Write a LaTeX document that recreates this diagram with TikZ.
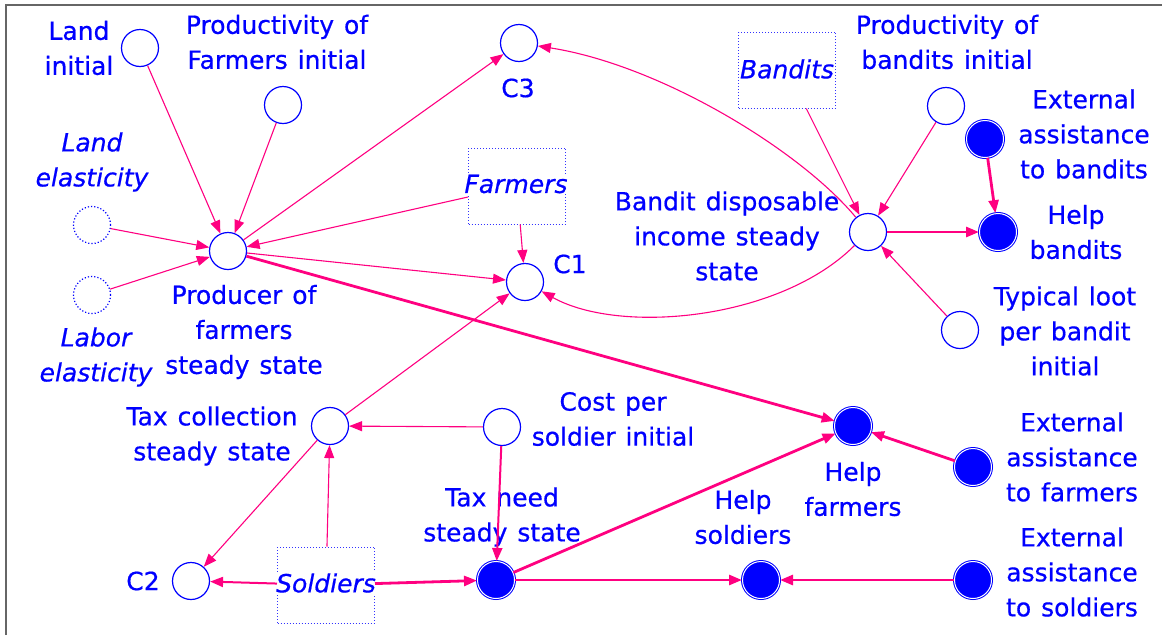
\documentclass[tikz,border=0pt]{standalone}
\usepackage{fontspec}
\setmainfont{DejaVu Sans}[FakeBold=0.6,WordSpace=1.25]
\usetikzlibrary{arrows.meta}
\definecolor{lnk}{RGB}{255,0,128}
\definecolor{ink}{RGB}{0,0,255}
\begin{document}
\begin{tikzpicture}[x=1pt,y=-1pt,
  var/.style={circle,draw=ink,line width=1.2pt,minimum size=37pt,inner sep=0pt,fill=white},
  extvar/.style={var,dotted},
  keyvar/.style={circle,draw=ink,fill=ink,line width=1pt,double=white,double distance=1pt,minimum size=37pt,inner sep=0pt},
  grp/.style={draw=ink!80,dotted,line width=1pt,minimum width=97pt,minimum height=76pt,inner sep=0pt},
  lbl/.style={text=ink,align=center,font=\fontsize{25}{35}\selectfont,inner sep=0pt},
  ilbl/.style={text=ink,align=center,font=\fontsize{25}{35}\selectfont\itshape,inner sep=0pt},
  glbl/.style={ilbl,fill=white,inner sep=1pt},
  thinl/.style={draw=lnk,line width=1.1pt,-{Triangle[length=13pt,width=10pt]}},
  midl/.style={draw=lnk,line width=2pt,-{Triangle[length=13pt,width=10pt]}},
  thickl/.style={draw=lnk,line width=2.8pt,-{Triangle[length=13pt,width=10pt]}},
]
\useasboundingbox (0,0) rectangle (1166,635);
% window frame
\draw[gray!80!black,line width=2pt] (5.5,635) -- (5.5,4.5) -- (1162,4.5);

% farmers sector
\node[var] (li) at (140,48) {};
\node[lbl] (lil) at (79,48) {Land\\initial};
\node[var] (pfi) at (283,105) {};
\node[lbl] (pfil) at (277,42) {Productivity of\\Farmers initial};
\node[extvar] (le) at (92,225) {};
\node[ilbl] (lel) at (92,162) {Land\\elasticity};
\node[extvar] (lae) at (92,295) {};
\node[ilbl] (lael) at (96,357) {Labor\\elasticity};
\node[var] (pf) at (228,251) {};
\node[lbl] (pfl) at (244,332) {Producer of\\farmers\\steady state};
\node[var] (c3) at (519,43) {};
\node[lbl] (c3l) at (518,88) {C3};
\node[grp] (fa) at (517,186) {};
\node[glbl] (fal) at (516,184) {Farmers};
\node[var] (c1) at (525,282) {};
\node[lbl] (c1l) at (570,264) {C1};

% bandits sector
\node[grp] (ba) at (787,70) {};
\node[glbl] (bal) at (787,69) {Bandits};
\node[var] (bd) at (868,232) {};
\node[lbl] (bdl) at (727,236) {Bandit disposable\\income steady\\state};
\node[var] (pbi) at (946,106) {};
\node[lbl] (pbil) at (947,42) {Productivity of\\bandits initial};
\node[keyvar] (eab) at (985,139) {};
\node[lbl] (eabl) at (1084,134) {External\\assistance\\to bandits};
\node[keyvar] (hb) at (998,232) {};
\node[lbl] (hbl) at (1076,232) {Help\\bandits};
\node[var] (tl) at (960,330) {};
\node[lbl] (tll) at (1065,331) {Typical loot\\per bandit\\initial};

% soldiers sector
\node[keyvar] (hf) at (853,426) {};
\node[lbl] (hfl) at (853,489) {Help\\farmers};
\node[keyvar] (eaf) at (973,467) {};
\node[lbl] (eafl) at (1072,457) {External\\assistance\\to farmers};
\node[keyvar] (eas) at (973,580) {};
\node[lbl] (easl) at (1072,572) {External\\assistance\\to soldiers};
\node[keyvar] (hs) at (761,580) {};
\node[lbl] (hsl) at (743,517) {Help\\soldiers};
\node[keyvar] (tn) at (496,580) {};
\node[lbl] (tnl) at (502,517) {Tax need\\steady state};
\node[var] (cs) at (502,427) {};
\node[lbl] (csl) at (613,419) {Cost per\\soldier initial};
\node[var] (tc) at (330,426) {};
\node[lbl] (tcl) at (212,436) {Tax collection\\steady state};
\node[var] (c2) at (191,581) {};
\node[lbl] (c2l) at (143,581) {C2};
\node[grp] (so) at (326,585) {};
\node[glbl] (sol) at (326,583) {Soldiers};

% thin links
\draw[thinl] (li) -- (pf);
\draw[thinl] (pfi) -- (pf);
\draw[thinl] (le) -- (pf);
\draw[thinl] (lae) -- (pf);
\draw[thinl] (fa) -- (pf);
\draw[thinl] (pf) -- (c3);
\draw[thinl] (pf) -- (c1);
\draw[thinl] (fa) -- (c1);
\draw[thinl] (bd) .. controls (800,150) and (660,65) .. (c3);
\draw[thinl] (bd) .. controls (780,320) and (620,335) .. (c1);
\draw[thinl] (tc) -- (c1);
\draw[thinl] (tc) -- (c2);
\draw[thinl] (cs) -- (tc);
\draw[thinl] (so) -- (tc);
\draw[thinl] (ba) -- (bd);
\draw[thinl] (pbi) -- (bd);
\draw[thinl] (tl) -- (bd);

% heavy links
\draw[thickl] (pf) -- (hf);
\draw[thickl] (tn) -- (hf);
\draw[thickl] (eaf) -- (hf);
\draw[midl] (so) -- (c2);
\draw[thickl] (so) -- (tn);
\draw[midl] (cs) -- (tn);
\draw[thickl] (tn) -- (hs);
\draw[thickl] (eas) -- (hs);
\draw[thickl] (eab) -- (hb);
\draw[thickl] (bd) -- (hb);
\end{tikzpicture}
\end{document}
